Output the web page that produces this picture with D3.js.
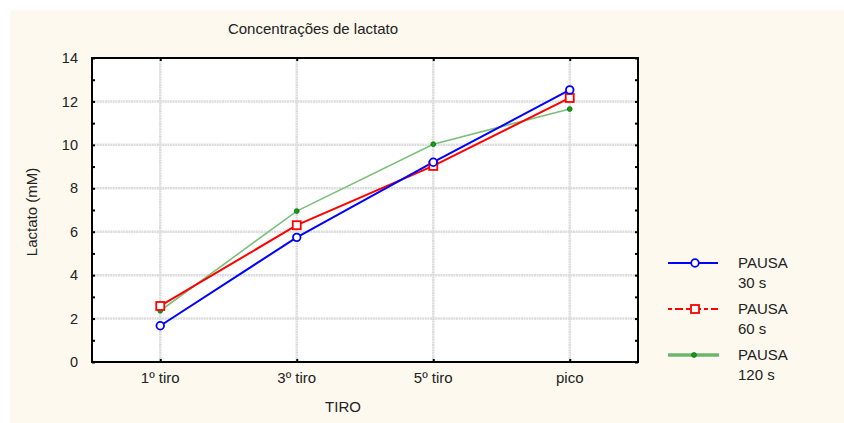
<!DOCTYPE html>
<html><head><meta charset="utf-8">
<script src="https://cdn.jsdelivr.net/npm/d3@7"></script>
<style>html,body{margin:0;padding:0;background:#fff;}svg{display:block;font-family:"Liberation Sans",Arial,sans-serif;}</style>
</head><body>
<svg id="c" width="844" height="423"></svg>
<script>
const categories = ["1º tiro", "3º tiro", "5º tiro", "pico"];
const pausa30 = [1.67, 5.74, 9.2, 12.53];
const pausa60 = [2.58, 6.30, 9.03, 12.16];
const pausa120 = [2.36, 6.95, 10.03, 11.65];
const seriesNames = ["PAUSA\n30 s", "PAUSA\n60 s", "PAUSA\n120 s"];
const yTicks = [0, 2, 4, 6, 8, 10, 12, 14];
const yMinorTicks = d3.range(0, 15, 1);
const title = "Concentrações de lactato";
const xTitle = "TIRO";
const yTitle = "Lactato (mM)";

const svg = d3.select("#c");
svg.append("rect").attr("x", 10).attr("y", 10).attr("width", 834).attr("height", 413).attr("fill", "#fdf9ee");

const L = 92, R = 638, T = 58, B = 362;
const x = d3.scalePoint().domain(categories).range([L, R]).padding(0.5);
const y = d3.scaleLinear().domain([0, 14]).range([B, T]);

svg.append("rect").attr("x", L).attr("y", T).attr("width", R - L).attr("height", B - T).attr("fill", "#fff");

// grid
const g = svg.append("g");
g.selectAll(".hg").data(yTicks.filter(d => d > 0 && d < 14)).join("line")
  .attr("x1", L).attr("x2", R).attr("y1", d => y(d)).attr("y2", d => y(d))
  .attr("stroke", "#dcdcdc").attr("stroke-width", 2.5).attr("stroke-dasharray", "2,0.6");
g.selectAll(".vg").data(categories).join("line")
  .attr("x1", d => x(d)).attr("x2", d => x(d)).attr("y1", T).attr("y2", B)
  .attr("stroke", "#dcdcdc").attr("stroke-width", 2.5).attr("stroke-dasharray", "2,0.6");

// series
const series = [
  {vals: pausa30, color: "#0000ff", width: 2, marker: "circle"},
  {vals: pausa60, color: "#ff0000", width: 2, marker: "square"},
  {vals: pausa120, color: "#7cbf7c", width: 1.6, marker: "dot"}
];
const line = d3.line().x((d, i) => x(categories[i])).y(d => y(d));
[2, 1, 0].forEach(k => {
  const s = series[k];
  svg.append("path").attr("d", line(s.vals)).attr("fill", "none")
    .attr("stroke", s.color).attr("stroke-width", s.width);
});
function drawMarker(sel, type, cx, cy) {
  if (type === "circle") sel.append("circle").attr("cx", cx).attr("cy", cy).attr("r", 3.8)
    .attr("fill", "#fff").attr("stroke", "#0000ff").attr("stroke-width", 1.8);
  else if (type === "square") sel.append("rect").attr("x", cx - 4).attr("y", cy - 4).attr("width", 8).attr("height", 8)
    .attr("fill", "#fff").attr("stroke", "#ff0000").attr("stroke-width", 1.8);
  else sel.append("circle").attr("cx", cx).attr("cy", cy).attr("r", 2.4)
    .attr("fill", "#1a9a1a").attr("stroke", "#007000").attr("stroke-width", 0.8);
}
[2, 1, 0].forEach(k => {
  const s = series[k];
  s.vals.forEach((v, i) => drawMarker(svg, s.marker, x(categories[i]), y(v)));
});

// frame
svg.append("rect").attr("x", L).attr("y", T).attr("width", R - L).attr("height", B - T)
  .attr("fill", "none").attr("stroke", "#000").attr("stroke-width", 2);

// axes with inward ticks
const yAxisL = svg.append("g").attr("transform", `translate(${L},0)`)
  .call(d3.axisRight(y).tickValues(yMinorTicks).tickSize(3).tickFormat(""));
const yAxisR = svg.append("g").attr("transform", `translate(${R},0)`)
  .call(d3.axisLeft(y).tickValues(yMinorTicks).tickSize(3).tickFormat(""));
const xAxisB = svg.append("g").attr("transform", `translate(0,${B})`)
  .call(d3.axisTop(x).tickSize(3).tickFormat(""));
const xAxisT = svg.append("g").attr("transform", `translate(0,${T})`)
  .call(d3.axisBottom(x).tickSize(3).tickFormat(""));
[yAxisL, yAxisR, xAxisB, xAxisT].forEach(a => {
  a.select(".domain").remove();
  a.selectAll("line").attr("stroke", "#000").attr("stroke-width", 2);
});

// labels
const FS = 15;
svg.append("g").selectAll("text").data(yTicks).join("text")
  .attr("x", 78).attr("y", d => y(d)).attr("dy", "0.35em").attr("text-anchor", "end")
  .attr("font-size", 14.5).attr("fill", "#222").text(d => d);
svg.append("g").selectAll("text").data(categories).join("text")
  .attr("x", d => x(d)).attr("y", 378).attr("dy", "0.35em").attr("text-anchor", "middle")
  .attr("font-size", FS).attr("fill", "#222").text(d => d);
svg.append("text").attr("x", 343).attr("y", 407).attr("dy", "0.35em").attr("text-anchor", "middle")
  .attr("font-size", FS).attr("fill", "#222").text(xTitle);
svg.append("text").attr("x", 313).attr("y", 29).attr("dy", "0.35em").attr("text-anchor", "middle")
  .attr("font-size", FS).attr("fill", "#222").text(title);
svg.append("text").attr("transform", "translate(32,212) rotate(-90)").attr("dy", "0.35em")
  .attr("text-anchor", "middle").attr("font-size", FS).attr("fill", "#222").text(yTitle);

// legend
const legY = [263, 309, 355];
const lg = svg.append("g");
lg.append("line").attr("x1", 668).attr("x2", 718).attr("y1", legY[0]).attr("y2", legY[0]).attr("stroke", "#0000ff").attr("stroke-width", 2);
drawMarker(lg, "circle", 695, legY[0]);
lg.append("line").attr("x1", 668).attr("x2", 718).attr("y1", legY[1]).attr("y2", legY[1]).attr("stroke", "#ff0000").attr("stroke-width", 2).attr("stroke-dasharray", "4,3,8,3");
drawMarker(lg, "square", 695, legY[1]);
lg.append("line").attr("x1", 668).attr("x2", 719).attr("y1", legY[2]).attr("y2", legY[2]).attr("stroke", "#6fb46f").attr("stroke-width", 3.5);
drawMarker(lg, "dot", 694, legY[2]);
seriesNames.forEach((n, i) => {
  n.split("\n").forEach((p, j) => {
    lg.append("text").attr("x", 738).attr("y", legY[i] + j * 19.5).attr("dy", "0.35em")
      .attr("font-size", FS).attr("fill", "#222").text(p);
  });
});
</script>
</body></html>
